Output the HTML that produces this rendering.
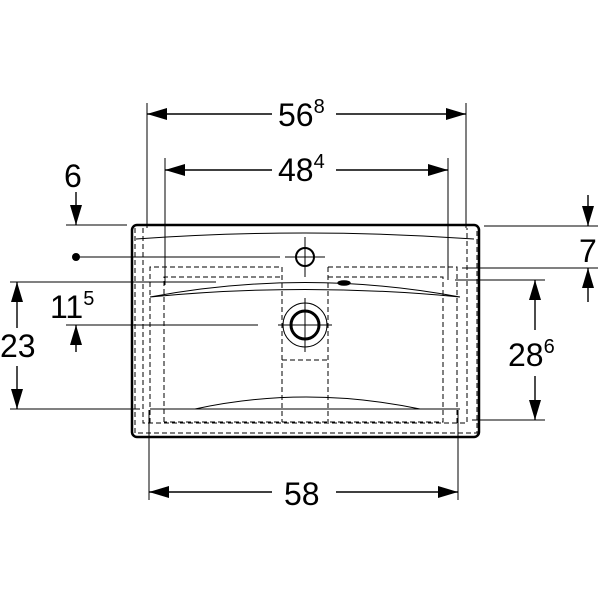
<!DOCTYPE html>
<html><head><style>body{margin:0;background:#fff}svg{display:block}</style></head><body>
<svg width="600" height="600" viewBox="0 0 600 600" xmlns="http://www.w3.org/2000/svg" font-family="Liberation Sans, sans-serif">
<defs>
<marker id="a" viewBox="0 0 20 12" refX="20" refY="6" markerWidth="20" markerHeight="12" markerUnits="userSpaceOnUse" orient="auto"><path d="M0,0L20,6L0,12z" fill="#000"/></marker>
<marker id="b" viewBox="0 0 20 12" refX="0" refY="6" markerWidth="20" markerHeight="12" markerUnits="userSpaceOnUse" orient="auto"><path d="M20,0L0,6L20,12z" fill="#000"/></marker>
</defs>
<g stroke="#000" fill="none" stroke-width="1.4">
<rect x="132" y="225" width="347" height="212" rx="5" stroke-width="2.5"/>
<g stroke-dasharray="5,3" stroke-width="1">
<path d="M135,228V433H477V228"/>
<path d="M143,228V423H467V228"/>
<path d="M150,423V267H282M328,267H457V423"/>
<path d="M164,422V277H282M328,277H443V422H164"/>
<path d="M282,267V422M328,267V422M282,360H328"/>
</g>
<path d="M136,239Q305,227 474,239" stroke-width="1"/>
<path d="M150,297Q305,268 460,297M150,297Q305,282 460,297" stroke-width="1"/>
<path d="M150,409H460M195,409Q305,385 420,409" stroke-width="1"/>
<ellipse cx="344" cy="283" rx="6" ry="2" fill="#000"/>
<circle cx="305" cy="257" r="9" stroke-width="2"/>
<path d="M305,237V277M285,257H325" stroke-width="1"/>
<circle cx="305" cy="325" r="14" stroke-width="3"/>
<circle cx="305" cy="325" r="22" stroke-width="1"/>
<path d="M305,298V352M278,325H332" stroke-width="1"/>
<path d="M147,103V228M466,103V228" stroke-width="1"/>
<path d="M147,114H272M336,114H466" marker-start="url(#b)" marker-end="url(#a)"/>
<path d="M165,158V285M448,158V280" stroke-width="1"/>
<path d="M165,170H272M336,170H448" marker-start="url(#b)" marker-end="url(#a)"/>
<path d="M66,225H127" stroke-width="1"/>
<path d="M76,192V225" marker-end="url(#a)"/>
<path d="M484,226H598M462,268H598M455,280H545" stroke-width="1"/>
<path d="M588,195V226" marker-end="url(#a)"/>
<path d="M588,302V268" marker-end="url(#a)"/>
<circle cx="76" cy="257" r="4" fill="#000" stroke="none"/>
<path d="M76,257H280" stroke-width="1"/>
<path d="M10,282H216M10,409H140" stroke-width="1"/>
<path d="M17,328V282" marker-end="url(#a)"/>
<path d="M17,366V409" marker-end="url(#a)"/>
<path d="M66,325H258" stroke-width="1"/>
<path d="M76,352V325" marker-end="url(#a)"/>
<path d="M472,420H545" stroke-width="1"/>
<path d="M535,330V280" marker-end="url(#a)"/>
<path d="M535,376V420" marker-end="url(#a)"/>
<path d="M149,410V500M458,410V500" stroke-width="1"/>
<path d="M149,492H272M336,492H458" marker-start="url(#b)" marker-end="url(#a)"/>
</g>
<g fill="#000" font-size="32">
<text x="278" y="126">56<tspan font-size="20" dy="-13">8</tspan></text>
<text x="278" y="181">48<tspan font-size="20" dy="-13">4</tspan></text>
<text x="64" y="187">6</text>
<text x="579" y="262">7</text>
<text x="50" y="318">11<tspan font-size="20" dy="-13">5</tspan></text>
<text x="0" y="357">23</text>
<text x="508" y="366">28<tspan font-size="20" dy="-13">6</tspan></text>
<text x="284" y="505">58</text>
</g>
</svg>
</body></html>
